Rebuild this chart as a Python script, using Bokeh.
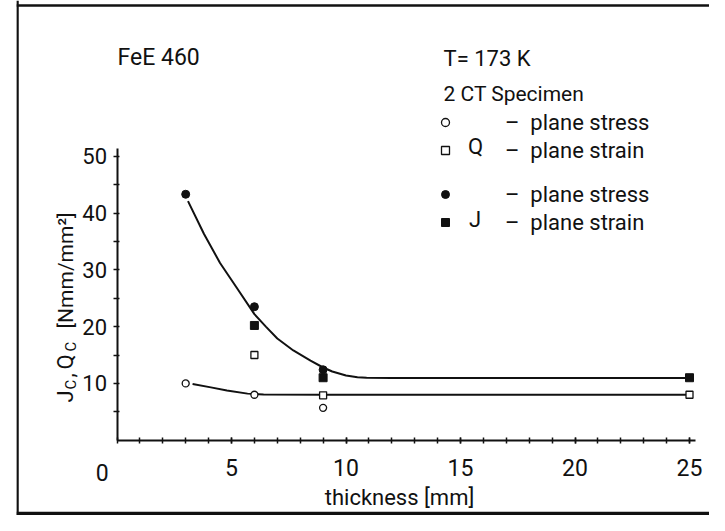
import math
from bokeh.plotting import figure
from bokeh.models import FixedTicker, Label, Legend, LegendItem, Span, Range1d
from bokeh.embed import file_html
from bokeh.resources import INLINE

# ---------------- data ----------------
t_Q_stress = [3, 6, 9]
Q_stress = [10.0, 8.0, 5.7]
t_Q_strain = [6, 9, 25]
Q_strain = [15.0, 7.9, 8.0]
t_J_stress = [3, 6, 9]
J_stress = [43.3, 23.5, 12.4]
t_J_strain = [6, 9, 25]
J_strain = [20.2, 11.0, 11.0]

# hand-drawn fitting curves
curve_J_x = [3.1, 3.8, 4.5, 5.25, 6.0, 6.5, 7.0, 7.7, 8.45, 9.0, 9.4, 10.0, 10.5, 10.9, 12.0, 25.0]
curve_J_y = [42.1, 36.3, 31.2, 26.7, 22.2, 20.0, 17.9, 15.8, 14.0, 12.8, 12.1, 11.4, 11.1, 11.0, 10.95, 10.95]
curve_Q_x = [3.3, 4.1, 4.8, 5.7, 6.4, 9.0, 25.0]
curve_Q_y = [9.9, 9.3, 8.75, 8.2, 8.05, 8.0, 8.0]

x_tick_values = [5, 10, 15, 20, 25]
x_minor_values = list(range(0, 26))
y_tick_values = [10, 20, 30, 40, 50]
y_minor_values = [5, 15, 25, 35, 45]
x_axis_extent = (0, 25.25)
y_axis_extent = (0, 51.3)

# ---------------- layout ----------------
FONT = "Roboto"
INK = "#111111"
W, H = 709, 515
# pixel geometry (canvas coordinates) of the frame and scales
FR_L, FR_R, FR_T, FR_B = 16, W, 0, H
X0_PX, SX = 116.5, 22.9      # x pixel of thickness 0, px per mm
Y0_PX, SY = 439.7, 5.68      # y pixel of value 0, px per unit

def dx(px):
    return (px - X0_PX) / SX

def dy(py):
    return (Y0_PX - py) / SY

p = figure(width=W, height=H, output_backend="svg", toolbar_location=None,
           x_range=Range1d(dx(FR_L), dx(FR_R)), y_range=Range1d(dy(FR_B), dy(FR_T)),
           min_border_left=FR_L, min_border_right=0, min_border_top=0, min_border_bottom=0)
p.outline_line_color = None
p.background_fill_color = "white"
p.border_fill_color = "white"
p.xgrid.visible = False
p.ygrid.visible = False

# axes at fixed locations inside the frame
xa = p.xaxis[0]
ya = p.yaxis[0]
xa.fixed_location = 0
ya.fixed_location = 0
xa.bounds = x_axis_extent
ya.bounds = y_axis_extent
xa.ticker = FixedTicker(ticks=x_tick_values, minor_ticks=x_minor_values)
ya.ticker = FixedTicker(ticks=y_tick_values, minor_ticks=y_minor_values)
for ax in (xa, ya):
    ax.axis_line_width = 2
    ax.axis_line_color = INK
    ax.major_tick_line_color = INK
    ax.minor_tick_line_color = INK
    ax.major_tick_line_width = 1.5
    ax.minor_tick_line_width = 1.5
    ax.major_label_text_font = FONT
    ax.major_label_text_color = INK
xa.major_tick_in = 3
xa.major_tick_out = 3
xa.minor_tick_in = 3
xa.minor_tick_out = 3
xa.major_label_standoff = 16
xa.major_label_text_font_size = "23px"
ya.major_tick_in = 2
ya.major_tick_out = 4
ya.minor_tick_in = 2
ya.minor_tick_out = 4
ya.major_label_standoff = 6
ya.major_label_text_font_size = "22px"

# border of the drawing
p.add_layout(Span(location=dx(17), dimension="height", line_color=INK, line_width=2.5))
p.add_layout(Span(location=dy(5), dimension="width", line_color=INK, line_width=2.5))
p.add_layout(Span(location=dy(513), dimension="width", line_color=INK, line_width=3.5))

# curves
p.line(curve_J_x, curve_J_y, line_color=INK, line_width=2)
p.line(curve_Q_x, curve_Q_y, line_color=INK, line_width=2)

# points
r_qs = p.scatter(t_Q_stress, Q_stress, marker="circle", size=7, fill_color="white", line_color=INK, line_width=1.3)
r_qn = p.scatter(t_Q_strain, Q_strain, marker="square", size=7, fill_color="white", line_color=INK, line_width=1.3)
r_js = p.scatter(t_J_stress, J_stress, marker="circle", size=8, fill_color=INK, line_color=INK)
r_jn = p.scatter(t_J_strain, J_strain, marker="square", size=8, fill_color=INK, line_color=INK)

# legends
def make_legend(items, bottom_px):
    return Legend(items=items, location=(435 - FR_L, FR_B - bottom_px), padding=0, margin=0, spacing=0,
                  glyph_width=20, glyph_height=20, label_height=28, label_standoff=50,
                  border_line_color=None, background_fill_alpha=0,
                  label_text_font=FONT, label_text_font_size="22px", label_text_color=INK)

p.add_layout(make_legend([LegendItem(label="–\u00a0 plane stress", renderers=[r_qs]),
                          LegendItem(label="–\u00a0 plane strain", renderers=[r_qn])], 164), "center")
p.add_layout(make_legend([LegendItem(label="–\u00a0 plane stress", renderers=[r_js]),
                          LegendItem(label="–\u00a0 plane strain", renderers=[r_jn])], 236), "center")

def label(text, px, py, size="22px", align="left", angle=0.0):
    p.add_layout(Label(x=dx(px), y=dy(py), text=text, text_font=FONT, text_font_size=size,
                       text_color=INK, text_align=align, text_baseline="alphabetic", angle=angle))

label("FeE 460", 117, 57, size="23px")
label("T= 173 K", 443, 58)
label("2 CT Specimen", 443, 93, size="21px")
label("Q", 475, 146, align="center")
label("J", 474.5, 219, align="center")
label("0", 101.7, 471.7, size="23px", align="center")
label("thickness [mm]", 399, 497, align="center")

# rotated y-axis title with subscripts
R = math.pi / 2
label("J", 65, 402, angle=R)
label("C", 70, 389, size="15px", angle=R)
label(",", 65, 377, angle=R)
label("Q", 65, 369, angle=R)
label("C", 70, 351, size="15px", angle=R)
label("[Nmm/mm²]", 65, 328, size="21px", angle=R)

open("out.html", "w").write(file_html(p, INLINE))
